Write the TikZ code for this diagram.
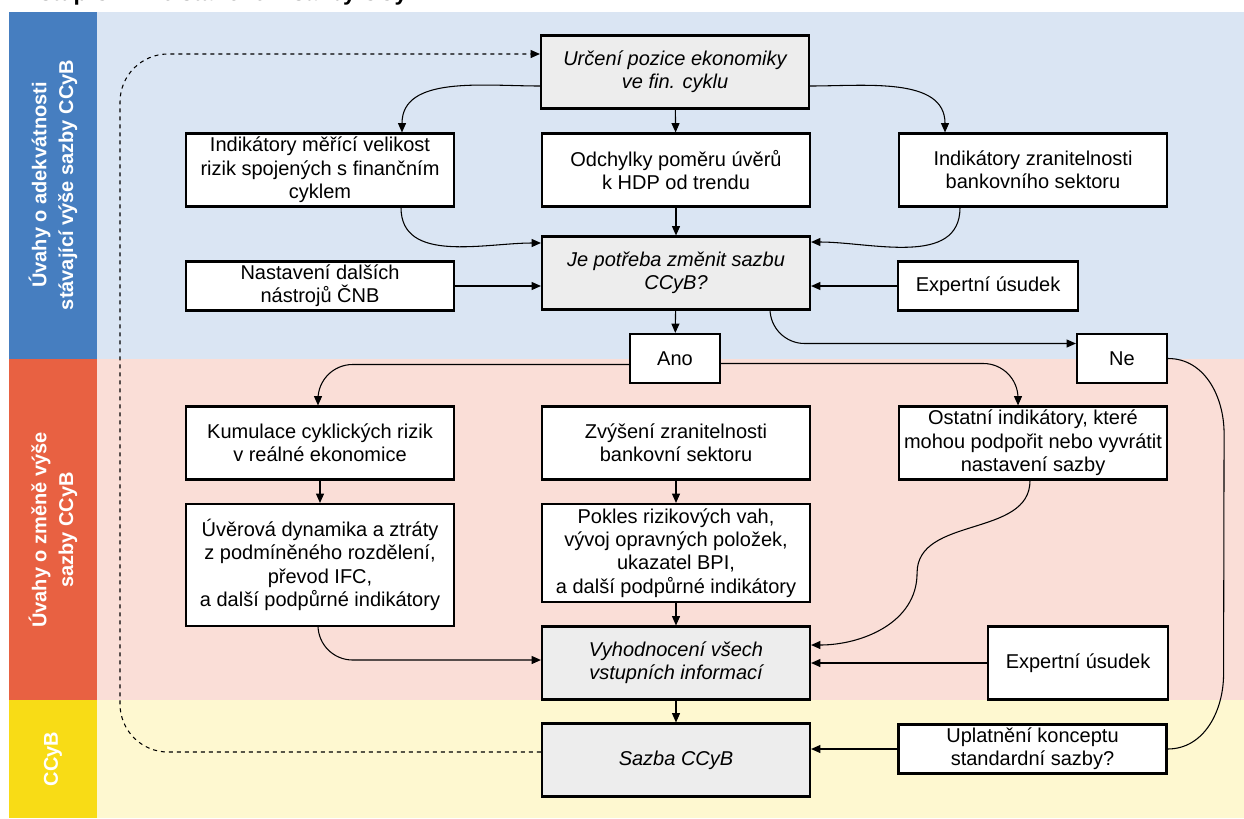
\documentclass[tikz,border=0pt]{standalone}
\usepackage{fontspec}
\setmainfont{Liberation Sans}
\usetikzlibrary{arrows.meta,calc}
\definecolor{blueband}{RGB}{70,126,192}
\definecolor{bluebg}{RGB}{218,229,243}
\definecolor{redband}{RGB}{232,97,66}
\definecolor{redbg}{RGB}{250,222,215}
\definecolor{yelband}{RGB}{248,220,22}
\definecolor{yelbg}{RGB}{254,248,208}
\definecolor{keygray}{RGB}{237,237,237}

\begin{document}
\begin{tikzpicture}[x=0.75pt,y=-0.75pt,
    font=\fontsize{15}{17.5}\selectfont,
    box/.style={draw,line width=1.6pt,fill=white,align=center,inner sep=2pt,
        minimum width=201pt,minimum height=54.75pt},
    keybox/.style={box,fill=keygray,font=\fontsize{15}{17.5}\selectfont\itshape},
    arr/.style={-{Triangle[length=7pt,width=6pt]},line width=0.8pt},
    band/.style={rotate=90,text=white,align=center,font=\bfseries\fontsize{15}{20}\selectfont}]
    \useasboundingbox (0,0) rectangle (1244,818);
    \fill[blueband](9,12) rectangle (97,359);
    \fill[bluebg](97,12) rectangle (1244,359);
    \fill[redband](9,359) rectangle (97,700);
    \fill[redbg](97,359) rectangle (1244,700);
    \fill[yelband](9,700) rectangle (97,818);
    \fill[yelbg](97,700) rectangle (1244,818);
    \node[anchor=base west,inner sep=0pt,font=\bfseries\fontsize{17}{20}\selectfont] (title) at (9,0.8) {Přístup ČNB ke stanovení sazby CCyB};
    \node[band] (lab1) at (53,185) {Úvahy o adekvátnosti\\stávající výše sazby CCyB};
    \node[band] (lab2) at (53,530) {Úvahy o změně výše\\sazby CCyB};
    \node[band] (lab3) at (53,759) {CCyB};

    \node[keybox] (urceni) at (675,72) {Určení pozice ekonomiky\\ve fin. cyklu};
    \node[box] (ind) at (320,170) {Indikátory měřící velikost\\rizik spojených s finančním\\cyklem};
    \node[box] (odch) at (676,170) {Odchylky poměru úvěrů\\k HDP od trendu};
    \node[box] (zran) at (1033,170) {Indikátory zranitelnosti\\bankovního sektoru};
    \node[keybox] (potreba) at (676,273) {Je potřeba změnit sazbu\\CCyB?};
    \node[box,minimum height=36.75pt] (nast) at (320,286) {Nastavení dalších\\nástrojů ČNB};
    \node[box,minimum width=135pt,minimum height=36.75pt] (exp1) at (988,286) {Expertní úsudek};
    \node[box,minimum width=67.5pt,minimum height=36.75pt] (ano) at (675,358.5) {Ano};
    \node[box,minimum width=67.5pt,minimum height=36.75pt] (ne) at (1122,358.5) {Ne};
    \node[box] (kum) at (320,443) {Kumulace cyklických rizik\\v reálné ekonomice};
    \node[box] (zvys) at (676,443) {Zvýšení zranitelnosti\\bankovní sektoru};
    \node[box] (ost) at (1033,443) {Ostatní indikátory, které\\mohou podpořit nebo vyvrátit\\nastavení sazby};
    \node[box,minimum height=91.5pt] (uver) at (320,565) {Úvěrová dynamika a ztráty\\z podmíněného rozdělení,\\převod IFC,\\a další podpůrné indikátory};
    \node[box,minimum height=73.5pt] (pokles) at (676,553) {Pokles rizikových vah,\\vývoj opravných položek,\\ukazatel BPI,\\a další podpůrné indikátory};
    \node[keybox] (vyh) at (676,663) {Vyhodnocení všech\\vstupních informací};
    \node[box,minimum width=135pt] (exp2) at (1078,663) {Expertní úsudek};
    \node[keybox] (sazba) at (676,760) {Sazba CCyB};
    \node[box,minimum height=36.75pt] (upl) at (1032.5,749) {Uplatnění konceptu\\standardní sazby?};

    \draw[arr]($(urceni.west)+(0,14)$) to[out=180,in=90] ($(ind.north)+(82,0)$);
    \draw[arr](urceni) -- (odch);
    \draw[arr]($(urceni.east)+(0,14)$) to[out=0,in=90] ($(zran.north)+(-88,0)$);
    \draw[arr]($(ind.south)+(81,0)$) to[out=-90,in=180] ($(potreba.west)+(0,-30)$);
    \draw[arr](odch) -- (potreba);
    \draw[arr]($(zran.south)+(-73,0)$) to[out=-90,in=0] ($(potreba.east)+(0,-31)$);
    \draw[arr](nast.east) -- (nast.east -| potreba.west);
    \draw[arr](exp1.west) -- (exp1.west -| potreba.east);
    \draw[arr](potreba) -- (ano);
    \draw[arr,rounded corners=26pt]($(potreba.south)+(94,0)$) |- ($(ne.west)+(0,-15)$);
    \draw[arr,rounded corners=26pt]($(ano.west)+(0,6)$) -| ($(kum.north)+(-2,0)$);
    \draw[arr,rounded corners=26pt]($(ano.east)+(0,5)$) -| ($(ost.north)+(-15,0)$);
    \draw[line width=0.8pt](ne.east) to[out=0,in=90] ($(ne.east)+(56,75)$) -- ($(upl.east)+(56,-75)$) to[out=-90,in=0] (upl.east);
    \draw[arr](kum) -- (uver);
    \draw[arr](zvys) -- (pokles);
    \draw[arr]($(ost.south)+(-3,0)$) to[out=-90,in=90] ($(vyh.east)+(106,-90)$) to[out=-90,in=0] ($(vyh.east)+(0,-18)$);
    \draw[arr](exp2.west) -- (exp2.west -| vyh.east);
    \draw[arr,rounded corners=26pt]($(uver.south)+(-2,0)$) |- ($(vyh.west)+(0,-3)$);
    \draw[arr](pokles) -- (vyh);
    \draw[arr](vyh) -- (sazba);
    \draw[arr](upl.west) -- (upl.west -| sazba.east);
    \coordinate (loop) at (120,400);
    \coordinate (dashtop) at ($(urceni.west)+(0,-18)$);
    \draw[arr,dashed,rounded corners=36pt]($(sazba.west)+(0,-8)$) -| (loop |- dashtop) -- (dashtop);
\end{tikzpicture}
\end{document}
